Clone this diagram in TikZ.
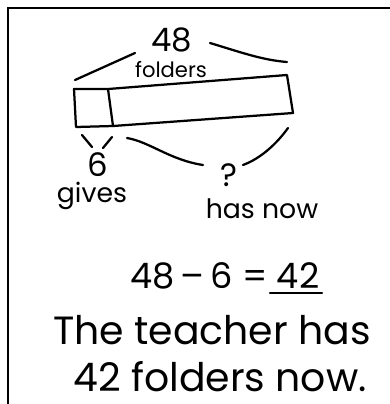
\documentclass[tikz,border=0pt]{standalone}
\usepackage{fontspec}
\setmainfont{Poppins}
\usetikzlibrary{positioning,calc}

\begin{document}
\begin{tikzpicture}[
        x=0.025cm, y=-0.025cm,
        pen/.style  ={line width=1.6pt, line cap=round, line join=round},
        hand/.style ={inner sep=0pt, anchor=base, font=\fontsize{19}{22}\selectfont},
        small/.style={inner sep=0pt, anchor=base, font=\fontsize{15}{17}\selectfont},
        big/.style  ={inner sep=0pt, anchor=base, font=\fontsize{28}{32}\selectfont},
    ]
    \useasboundingbox (0,0) rectangle (390,404);

    % ===================== Frame =====================
    \draw[line width=2pt] (8,404) -- (8,8) -- (390,8);

    % ===================== Tape =====================
    \coordinate (tl) at (74,89);
    \coordinate (tm) at (108,89);
    \coordinate (tr) at (287,75);
    \coordinate (br) at (293,113);
    \coordinate (bm) at (113,126);
    \coordinate (bl) at (76,127);
    \draw[pen] (tl) -- (tm) -- (tr) -- (br) -- (bm) -- (bl) -- cycle;
    \draw[pen] (tm) -- (bm);

    % ===================== Whole (above) =====================
    \node[hand, font=\fontsize{23}{26}\selectfont] (total) at (172,51) {48};
    \node[small] (fold) at (171,77) {folders};
    \draw[pen] (75,80) -- (135,53);
    \draw[pen] (210,43) .. controls (240,52) and (262,60) .. (287,62);

    % ===================== Parts (below) =====================
    \draw[pen] (82,135) -- (92,147);
    \draw[pen] (112,137) -- (103,148);
    \node[hand, font=\fontsize{23}{26}\selectfont] (six) at (98,176) {6};
    \node[hand] (gives) at (92,202) {gives};

    \draw[pen] (127,138) .. controls (150,142) and (170,160) .. (203,165);
    \node[hand, font=\fontsize{23}{26}\selectfont] (unk) at (229,186) {?};
    \draw[pen] (243,165) .. controls (262,158) and (278,142) .. (288,128);
    \node[hand] (now) at (262,218) {has now};

    % ===================== Answer =====================
    \node[big, font=\fontsize{25}{30}\selectfont] (eqn) at (225,288) {48\,–\,6 = 42};
    \draw[pen] (270,293) -- (322,293);
    \node[big] (ln1) at (212,344) {The teacher has};
    \node[big] (ln2) at (220,391) {42 folders now.};
\end{tikzpicture}
\end{document}
